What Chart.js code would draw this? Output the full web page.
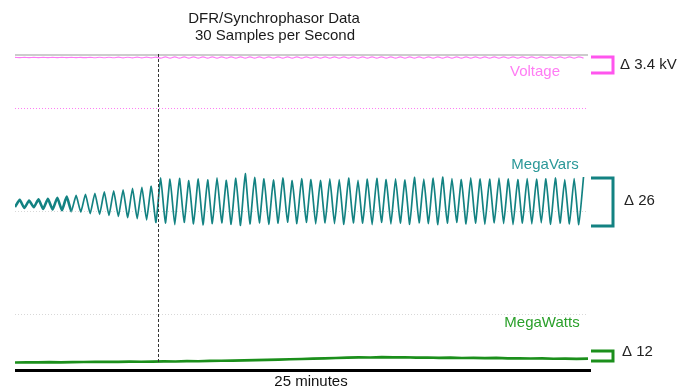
<!DOCTYPE html>
<html><head><meta charset="utf-8">
<script src="https://cdn.jsdelivr.net/npm/chart.js@4"></script>
<style>html,body{margin:0;padding:0;background:#fff}#wrap{width:696px;height:389px}</style>
</head><body><div id="wrap"><canvas id="c" width="696" height="389"></canvas></div>
<script>
// ---------- data ----------
const titleLines = ["DFR/Synchrophasor Data", "30 Samples per Second"];
const seriesNames = ["Voltage", "MegaVars", "MegaWatts"];
const spanLabel = "25 minutes";
const spanMinutes = 25;
const markerMinute = 6.25;          // vertical dashed marker
const halfCycleStepMin = 0.205;     // spacing of extremes
// MegaVars extremes (MVAr, relative), alternating trough / peak
const varValues = [
  -3.2,0.6,-3.8,0.3,-3.4,0.9,-4.3,1.2,-4.6,1.8,
  -5.0,2.4,-5.6,3.0,-6.0,3.6,-6.8,4.2,-7.2,4.9,
  -7.8,5.5,-8.4,6.0,-9.0,6.8,-9.6,7.4,-10.2,8.0,
  -11.5,12.6,-12.0,11.8,-12.8,12.2,-11.6,11.0,-12.4,12.0,
  -13.0,11.4,-12.2,12.6,-11.8,11.2,-12.6,12.4,-13.2,14.8,
  -12.4,12.8,-11.8,12.0,-12.6,11.4,-12.0,12.6,-11.4,11.0,
  -12.2,12.2,-11.6,11.6,-12.4,11.2,-11.8,12.0,-12.2,11.6,
  -12.6,12.4,-11.8,11.2,-12.0,11.8,-12.8,12.2,-11.6,11.6,
  -12.4,12.0,-12.0,11.4,-12.6,12.8,-11.8,11.8,-12.2,12.4,
  -12.8,13.0,-12.0,12.2,-11.6,11.6,-12.4,12.6,-12.0,12.0,
  -12.6,11.8,-11.8,12.4,-12.2,12.0,-12.8,11.6,-12.0,12.2,
  -12.4,11.8,-11.8,12.0,-12.6,12.6,-12.0,11.6,-12.4,12.2,
  -12.8,13.0
];
// Voltage ripple (kV, relative)
const voltValues = [
  0.02,-0.02,0.02,-0.02,0.02,-0.02,0.02,-0.02,0.02,-0.02,
  0.02,-0.02,0.03,-0.02,0.02,-0.03,0.04,-0.05,0.05,-0.05,
  0.05,-0.05,0.06,-0.06,0.05,-0.06,0.06,-0.06,0.06,-0.07,
  0.08,-0.15,0.14,-0.14,0.15,-0.14,0.14,-0.15,0.14,-0.15,
  0.14,-0.14,0.15,-0.14,0.14,-0.15,0.14,-0.14,0.15,-0.14,
  0.14,-0.14,0.14,-0.15,0.15,-0.14,0.14,-0.14,0.14,-0.14,
  0.15,-0.14,0.14,-0.14,0.14,-0.15,0.14,-0.14,0.15,-0.14,
  0.14,-0.14,0.14,-0.14,0.15,-0.15,0.14,-0.14,0.14,-0.14,
  0.14,-0.14,0.15,-0.14,0.14,-0.15,0.14,-0.14,0.14,-0.14,
  0.14,-0.15,0.14,-0.14,0.15,-0.14,0.14,-0.14,0.14,-0.14,
  0.14,-0.14,0.15,-0.14,0.14,-0.15,0.14,-0.14,0.14,-0.14,
  0.15,-0.14,0.14,-0.14,0.14,-0.15,0.14,-0.14,0.15,-0.14,
  0.14,-0.14
];
const wattStepMin = 0.5;
// MegaWatts (MW, relative)
const wattValues = [
  0.0,0.3,0.1,0.4,0.2,0.5,0.6,0.9,0.7,0.8,
  1.0,0.9,1.1,1.3,1.2,1.6,1.5,1.9,2.1,2.3,
  2.6,2.9,3.2,3.4,3.9,4.2,4.6,5.0,5.4,5.9,
  6.2,6.0,6.4,6.1,6.3,5.8,6.0,5.6,5.8,5.4,
  5.6,5.2,5.5,5.0,5.1,4.8,5.0,4.5,4.7,4.3,
  4.6
];
const deltaLabels = ["\u0394 3.4 kV", "\u0394 26", "\u0394 12"];
const deltaValues = [3.4, 26, 12];
const bracketTops = [0.1, 12.5, 13.8];
const voltTopLine = 0.744, voltRef = -10.7, varRef = -5.4, wattRef = 58.2;

// ---------- build ----------
const colVolt = '#ff7af6', colVoltTxt = '#ff7cf4', colVoltBr = '#ff55ee';
const colVar = '#138282', colVarTxt = '#2a9898';
const colWatt = '#1b8f1b', colWattTxt = '#2aa02a';

const varPts = varValues.map((v, i) => ({x: i * halfCycleStepMin, y: v}));
const voltPts = voltValues.map((v, i) => ({x: i * halfCycleStepMin, y: v}));
const wattPts = wattValues.map((v, i) => ({x: i * wattStepMin, y: v}));

const FONT = '"Liberation Sans", Arial, sans-serif';

const overlay = {
  id: 'overlay',
  beforeDatasetsDraw(chart) {
    const ctx = chart.ctx, s = chart.scales;
    const x0 = s.x.getPixelForValue(0), x1 = s.x.getPixelForValue(spanMinutes);
    ctx.save();
    let y = s.yV.getPixelForValue(voltTopLine) + 1;
    ctx.strokeStyle = '#cccccc'; ctx.lineWidth = 2;
    ctx.beginPath(); ctx.moveTo(x0, y); ctx.lineTo(x1, y); ctx.stroke();
    ctx.lineWidth = 1; ctx.setLineDash([1, 2]);
    ctx.strokeStyle = '#ff7cf4';
    y = Math.round(s.yV.getPixelForValue(voltRef)) + 0.5;
    ctx.beginPath(); ctx.moveTo(x0, y); ctx.lineTo(x1, y); ctx.stroke();
    ctx.strokeStyle = '#d8d8d8';
    y = Math.round(s.yVar.getPixelForValue(varRef)) + 0.5;
    ctx.beginPath(); ctx.moveTo(x0, y); ctx.lineTo(x1, y); ctx.stroke();
    y = Math.round(s.yW.getPixelForValue(wattRef)) + 0.5;
    ctx.beginPath(); ctx.moveTo(x0, y); ctx.lineTo(x1, y); ctx.stroke();
    ctx.restore();
  },
  afterDatasetsDraw(chart) {
    const ctx = chart.ctx, s = chart.scales, ca = chart.chartArea;
    const x0 = s.x.getPixelForValue(0), x1 = s.x.getPixelForValue(spanMinutes);
    ctx.save();
    const mx = Math.round(s.x.getPixelForValue(markerMinute)) + 0.5;
    ctx.strokeStyle = '#333'; ctx.lineWidth = 1; ctx.setLineDash([3, 2]);
    ctx.beginPath(); ctx.moveTo(mx, ca.top); ctx.lineTo(mx, ca.bottom - 6); ctx.stroke();
    ctx.setLineDash([]);
    ctx.fillStyle = '#000';
    ctx.fillRect(x0, ca.bottom - 1, x1 - x0 + 3, 3);
    const axes = ['yV', 'yVar', 'yW'];
    const cols = [colVoltBr, colVar, colWatt];
    const bl = x1 + 3, br = x1 + 25;
    axes.forEach((a, k) => {
      const t = s[a].getPixelForValue(bracketTops[k]);
      const b = s[a].getPixelForValue(bracketTops[k] - deltaValues[k]);
      ctx.strokeStyle = cols[k]; ctx.lineWidth = 3;
      ctx.beginPath(); ctx.moveTo(bl, t); ctx.lineTo(br, t); ctx.lineTo(br, b); ctx.lineTo(bl, b); ctx.stroke();
    });
    ctx.font = '15px ' + FONT; ctx.fillStyle = '#222'; ctx.textBaseline = 'middle'; ctx.textAlign = 'left';
    ctx.fillText(deltaLabels[0], 620, 65);
    ctx.fillText(deltaLabels[1], 624, 201);
    ctx.fillText(deltaLabels[2], 622, 352);
    ctx.textAlign = 'center';
    ctx.fillStyle = colVoltTxt; ctx.fillText(seriesNames[0], 535, 72);
    ctx.fillStyle = colVarTxt; ctx.fillText(seriesNames[1], 545, 165);
    ctx.fillStyle = colWattTxt; ctx.fillText(seriesNames[2], 542, 323);
    ctx.fillStyle = '#1a1a1a';
    ctx.fillText(titleLines[0], 274, 19);
    ctx.fillText(titleLines[1], 275, 36);
    ctx.fillStyle = '#111';
    ctx.fillText(spanLabel, 311, 382);
    ctx.restore();
  }
};

new Chart(document.getElementById('c'), {
  type: 'line',
  data: {
    datasets: [
      {label: seriesNames[0], data: voltPts, yAxisID: 'yV', borderColor: colVolt, borderWidth: 1.2, pointRadius: 0, tension: 0.4, fill: false},
      {label: seriesNames[1], data: varPts, yAxisID: 'yVar', borderColor: colVar, borderWidth: 1.7, pointRadius: 0, tension: 0.15, fill: false,
       segment: {borderWidth: c => (c.p0DataIndex < 12 ? 2.6 : 1.7)}},
      {label: seriesNames[2], data: wattPts, yAxisID: 'yW', borderColor: colWatt, borderWidth: 2.6, pointRadius: 0, tension: 0, fill: false}
    ]
  },
  options: {
    responsive: false,
    devicePixelRatio: 1,
    animation: false,
    layout: {padding: {left: 15, right: 108, top: 54, bottom: 19}},
    plugins: {legend: {display: false}, title: {display: false}, tooltip: {enabled: false}},
    scales: {
      x: {type: 'linear', min: 0, max: spanMinutes, display: false},
      yV: {type: 'linear', min: -66.41, max: 0.744, display: false},
      yVar: {type: 'linear', min: -91.5, max: 79.6, display: false},
      yW: {type: 'linear', min: -9, max: 370.2, display: false}
    }
  },
  plugins: [overlay]
});
</script>
</body></html>
